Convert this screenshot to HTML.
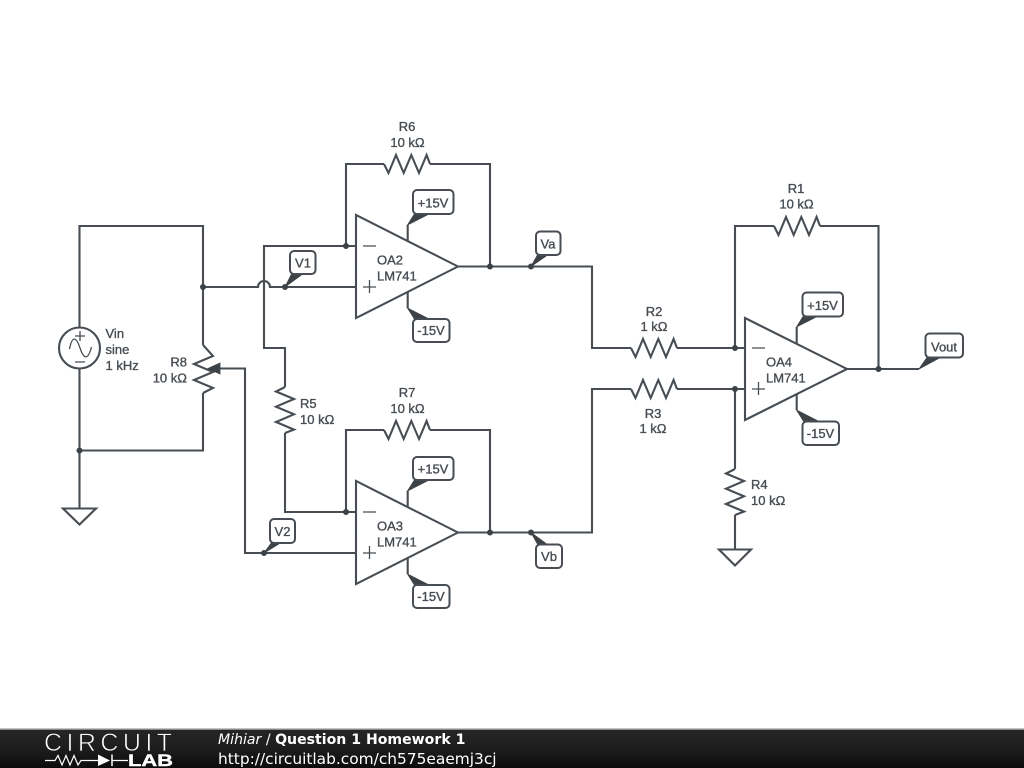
<!DOCTYPE html>
<html><head><meta charset="utf-8"><style>
html,body{margin:0;padding:0;background:#fff;width:1024px;height:768px;overflow:hidden}
svg{display:block}
.w{fill:none;stroke:#474d52;stroke-width:2.1;stroke-linejoin:miter}
.t{font:13px "Liberation Sans",sans-serif;fill:#474d52;stroke:#474d52;stroke-width:.35}
.m{text-anchor:middle}
.b{fill:#fff;stroke:#474d52;stroke-width:2}
.f{fill:#3d4347;stroke:#3d4347;stroke-width:.8}
.s{fill:none;stroke:#474d52;stroke-width:1.3}
</style></head><body>
<svg width="1024" height="768" viewBox="0 0 1024 768" xmlns="http://www.w3.org/2000/svg">
<defs>
<linearGradient id="g" x1="0" y1="0" x2="0" y2="1"><stop offset="0" stop-color="#262626"/><stop offset=".5" stop-color="#1d1d1d"/><stop offset="1" stop-color="#0c0c0c"/></linearGradient>
<filter id="bl" filterUnits="userSpaceOnUse" x="0" y="0" width="1024" height="768"><feGaussianBlur stdDeviation="0.35"/></filter>
<path id="rh" class="w" d="M0 0L4.5 9L12 -9L19.7 9L27.3 -9L35 9L42.6 -9L46 0"/>
<path id="rv" class="w" d="M0 0L-9 4.5L9 12L-9 19.7L9 27.3L-9 35L9 42.6L0 46"/>
</defs>
<g filter="url(#bl)">
<!-- source loop and R8 -->
<path class="w" d="M79.5 327V226H203V345"/>
<path class="w" d="M79.5 369V508"/>
<path class="w" d="M79.5 450.5H203V393"/>
<path class="w" d="M63 508.500H96L79.500 524.500Z"/>
<circle class="w" cx="79.500" cy="348" r="20.500"/>
<path class="s" d="M69.500 349C72 336 76 336 80 348S88 360 91.500 347"/>
<path class="s" d="M75 336H85M80 331V341M75 362H85"/>
<path class="w" d="M203 345L213 356L194 364L213 372L194 380L213 388L203 393"/>
<path class="w" d="M220 368.500H245V553H356"/>
<path class="f" d="M208 368.500L220 363V374Z"/>

<!-- wires to OA2 -->
<path class="w" d="M203 287H258A6 6 0 0 1 270 287H356"/>
<path class="w" d="M356 246H264V348H285V387"/>
<path class="w" d="M285 433V512H356"/>
<use href="#rv" x="285" y="387"/>
<path class="w" d="M346 246V164H384"/><use href="#rh" x="384" y="164"/>
<path class="w" d="M430 164H490V266.500"/>
<path class="w" d="M458 266.500H592V348H631"/><use href="#rh" x="631" y="348"/>
<path class="w" d="M677 348H745"/>

<!-- wires to OA3 -->
<path class="w" d="M346 512V430H384"/><use href="#rh" x="384" y="430"/>
<path class="w" d="M430 430H490V532.500"/>
<path class="w" d="M458 532.500H592V389H631"/><use href="#rh" x="631" y="389"/>
<path class="w" d="M677 389H745"/>

<!-- OA4 wires -->
<path class="w" d="M735 348V226H774"/><use href="#rh" x="774" y="226"/>
<path class="w" d="M820 226H878.500V369"/>
<path class="w" d="M847 369H919"/>
<path class="w" d="M735 389V469"/><use href="#rv" x="735" y="469"/>
<path class="w" d="M735 515V549"/>
<path class="w" d="M719 549.500H751L735 565.500Z"/>

<!-- op amps -->
<path class="w" d="M356 215V318L458 266.500Z"/>
<path class="w" d="M356 481V584L458 532.500Z"/>
<path class="w" d="M745 318V420L847 369Z"/>
<path class="s" d="M363 246H376M363 287H376M369.500 280V293"/>
<path class="s" d="M363 512H376M363 553H376M369.500 546V559"/>
<path class="s" d="M752 348H765M752 389H765M758.500 382V395"/>

<!-- dots -->
<g class="f">
<circle cx="203" cy="287" r="2.600"/><circle cx="79.500" cy="450.500" r="2.600"/>
<circle cx="285" cy="287" r="2.600"/><circle cx="346" cy="246" r="2.600"/>
<circle cx="346" cy="512" r="2.600"/><circle cx="490" cy="266.500" r="2.600"/>
<circle cx="531" cy="266.500" r="2.600"/><circle cx="490" cy="532.500" r="2.600"/>
<circle cx="531" cy="532.500" r="2.600"/><circle cx="264" cy="553" r="2.600"/>
<circle cx="735" cy="348" r="2.600"/><circle cx="735" cy="389" r="2.600"/>
<circle cx="878.500" cy="369" r="2.600"/>
</g>

<!-- supply pins and tails -->
<path class="w" d="M407.700 241V225M407.700 292V308M407.700 507V491M407.700 558V574M796.700 343V327M796.700 394V410"/>
<g class="f">
<path d="M407.500 225L415 213H431Z"/><path d="M407.500 308L415 320H431Z"/>
<path d="M407.500 491L415 479H431Z"/><path d="M407.500 574L415 586H431Z"/>
<path d="M796.500 327L804 315H820Z"/><path d="M796.500 410L804 422H820Z"/>
<path d="M285 287L292 273H304Z"/><path d="M531 266.500L538 254H549Z"/>
<path d="M531 532.500L538 545H548Z"/><path d="M264 553L272 542H282Z"/>
<path d="M919 369L928 356H943Z"/>
</g>

<!-- tags -->
<rect class="b" x="413" y="190" width="40.500" height="24" rx="4"/>
<rect class="b" x="413" y="319" width="36.500" height="23" rx="4"/>
<rect class="b" x="413" y="457" width="40.500" height="23" rx="4"/>
<rect class="b" x="413" y="585" width="36.500" height="23" rx="4"/>
<rect class="b" x="802.500" y="292.500" width="40.500" height="24" rx="4"/>
<rect class="b" x="802.500" y="421.500" width="36.500" height="23.500" rx="4"/>
<rect class="b" x="290" y="251" width="25.500" height="23" rx="4"/>
<rect class="b" x="270" y="519" width="25" height="24" rx="4"/>
<rect class="b" x="536" y="231.500" width="24.500" height="23.500" rx="4"/>
<rect class="b" x="536" y="544.500" width="26" height="23.500" rx="4"/>
<rect class="b" x="925.500" y="333.500" width="37.500" height="24" rx="4"/>

<g class="t m">
<text x="433" y="207.500">+15V</text><text x="431" y="335">-15V</text>
<text x="433" y="473.500">+15V</text><text x="431" y="601">-15V</text>
<text x="822.500" y="310">+15V</text><text x="820.500" y="438">-15V</text>
<text x="303" y="267.500">V1</text><text x="282.500" y="536">V2</text>
<text x="548" y="248.500">Va</text><text x="549" y="561">Vb</text>
<text x="944" y="351.500">Vout</text>
<text x="407" y="131">R6</text><text x="407.500" y="147">10 kΩ</text>
<text x="407" y="397">R7</text><text x="407.500" y="413">10 kΩ</text>
<text x="796" y="193">R1</text><text x="796.500" y="208.500">10 kΩ</text>
<text x="654" y="316">R2</text><text x="654" y="331">1 kΩ</text>
<text x="653" y="418">R3</text><text x="653" y="433">1 kΩ</text>
</g>
<g class="t">
<text x="377" y="264.500">OA2</text><text x="377" y="280.500">LM741</text>
<text x="377" y="530.500">OA3</text><text x="377" y="546.500">LM741</text>
<text x="766" y="366.500">OA4</text><text x="766" y="382.500">LM741</text>
<text x="300" y="408">R5</text><text x="300" y="424">10 kΩ</text>
<text x="751" y="489">R4</text><text x="751" y="505">10 kΩ</text>
<text x="105.500" y="338">Vin</text><text x="105.500" y="354">sine</text><text x="105.500" y="370">1 kHz</text>
<text x="187" y="366.500" text-anchor="end">R8</text><text x="187" y="382.500" text-anchor="end">10 kΩ</text>
</g>
</g>
<!-- footer -->
<rect x="0" y="729" width="1024" height="39" fill="url(#g)"/>
<rect x="0" y="728.500" width="1024" height="1.500" fill="#8a8a8a"/>
<text x="44" y="751" font-family="Liberation Sans" font-size="25" fill="#fff" stroke="#1f1f1f" stroke-width="0.7" textLength="128" lengthAdjust="spacing">CIRCUIT</text>
<path d="M45 760.500H55L58 755.500L62 765L66 755.500L70 765L74 755.500L78 765L81 760.500H98M112 760.500H128" fill="none" stroke="#fff" stroke-width="1.200"/>
<path d="M98 754.500V766L110 760.500Z" fill="#fff"/><path d="M112 754.500V766" stroke="#fff" stroke-width="1.500"/>
<text x="128" y="766" font-family="Liberation Sans" font-weight="bold" font-size="17" fill="#fff" stroke="#fff" stroke-width=".4" textLength="45" lengthAdjust="spacingAndGlyphs">LAB</text>
<text x="218" y="744" font-family="DejaVu Sans" font-size="14.100" fill="#fff"><tspan font-style="italic">Mihiar</tspan> / <tspan font-weight="bold">Question 1 Homework 1</tspan></text>
<text x="218" y="764" font-family="DejaVu Sans" font-size="15.400" fill="#fff">http://circuitlab.com/ch575eaemj3cj</text>
</svg>
</body></html>
